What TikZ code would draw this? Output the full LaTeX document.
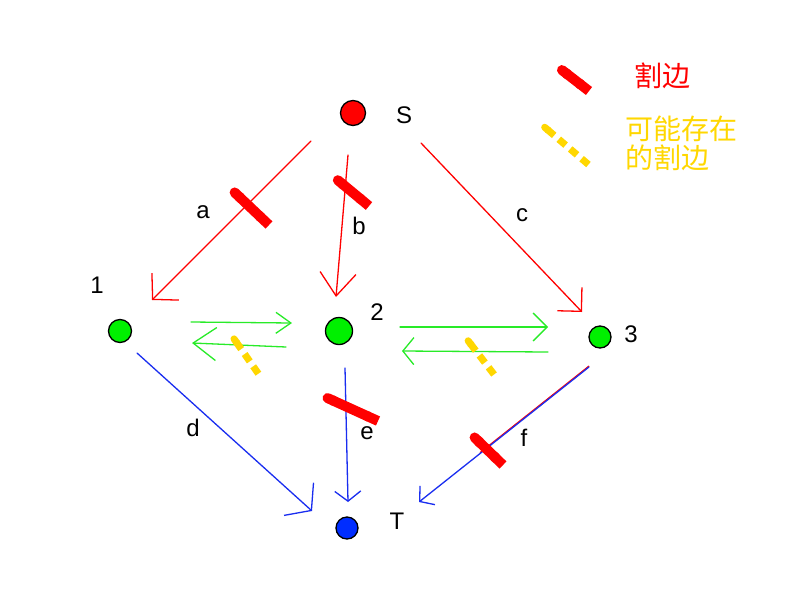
\documentclass[tikz,border=0pt]{standalone}
\usepackage{fontspec}
\setmainfont{Liberation Sans}
\newfontfamily\cjk{Noto Sans CJK SC}
\usetikzlibrary{arrows.meta}
\definecolor{ngreen}{RGB}{0,240,0}
\definecolor{egreen}{RGB}{40,235,40}
\definecolor{nblue}{RGB}{0,45,255}
\definecolor{eblue}{RGB}{25,45,240}
\definecolor{gold}{RGB}{255,215,0}
\begin{document}
\begin{tikzpicture}[x=1pt,y=-1pt,
  vertex/.style={circle, draw=black, line width=1.3pt, inner sep=0pt},
  lbl/.style={font=\fontsize{24}{28}\selectfont, inner sep=0pt, anchor=center},
  edge/.style={line width=1.3pt, line cap=round},
  cutmark/.style={draw=red, line width=10pt, line cap=butt, {Round Cap[]}-{Butt Cap[]}},
  maybecut/.style={draw=gold, line width=7pt, line cap=butt, dash pattern=on 9pt off 6pt},
]
\useasboundingbox (0,0) rectangle (800,600);
\fill[white] (0,0) rectangle (800,600);

% vertices
\node[vertex, fill=red, minimum size=25pt] (S) at (353,113) {};
\node[vertex, fill=ngreen, minimum size=23pt] (n1) at (120,331) {};
\node[vertex, fill=ngreen, minimum size=27pt] (n2) at (339,331) {};
\node[vertex, fill=ngreen, minimum size=22pt] (n3) at (600,337) {};
\node[vertex, fill=nblue, minimum size=22pt] (T) at (347,528) {};

% vertex labels
\node[lbl] (lS) at (404,115) {S};
\node[lbl] (l1) at (97,285) {1};
\node[lbl] (l2) at (377,312) {2};
\node[lbl] (l3) at (631,334) {3};
\node[lbl] (lT) at (397,521) {T};

% edge end points
\coordinate (a0) at (311,141); \coordinate (a1) at (152,300);
\coordinate (b0) at (348,155); \coordinate (b1) at (336,297);
\coordinate (c0) at (421,143); \coordinate (c1) at (582,312);
\coordinate (d0) at (137,353); \coordinate (d1) at (312,511);
\coordinate (e0) at (345,368); \coordinate (e1) at (348,502);
\coordinate (f0) at (589,367); \coordinate (f1) at (419,502);
\coordinate (g0) at (191,322); \coordinate (g1) at (292,323);
\coordinate (h0) at (286,347); \coordinate (h1) at (192,343);
\coordinate (i0) at (400,327); \coordinate (i1) at (548,327);
\coordinate (j0) at (548,352); \coordinate (j1) at (402,351);

% red edges
\draw[edge, red, -{Straight Barb[length=18pt,width=38pt]}] (a0) -- (a1);
\draw[edge, red, -{Straight Barb[length=23pt,width=36pt]}] (b0) -- (b1);
\draw[edge, red, -{Straight Barb[length=17pt,width=34pt]}] (c0) -- (c1);

% blue edges
\draw[edge, eblue, -{Straight Barb[length=17pt,width=44pt]}] (d0) -- (d1);
\draw[edge, eblue, -{Straight Barb[length=10pt,width=26pt]}] (e0) -- (e1);
\coordinate (fr0) at (589,366); \coordinate (fr1) at (480,452.6);
\draw[line width=1.2pt, red] (fr0) -- (fr1);
\draw[edge, eblue, -{Straight Barb[length=10pt,width=24pt]}] (f0) -- (f1);

% green edges
\draw[edge, egreen, -{Straight Barb[length=15pt,width=21pt]}] (g0) -- (g1);
\draw[edge, egreen, -{Straight Barb[length=23pt,width=33pt]}] (h0) -- (h1);
\draw[edge, egreen, -{Straight Barb[length=14pt,width=28pt]}] (i0) -- (i1);
\draw[edge, egreen, -{Straight Barb[length=11pt,width=27pt]}] (j0) -- (j1);

% edge labels
\node[lbl] (la) at (203,212) {a};
\node[lbl] (lb) at (359,226) {b};
\node[lbl] (lc) at (522,215) {c};
\node[lbl] (ld) at (193,428) {d};
\node[lbl] (le) at (367,433) {e};
\node[lbl] (lf) at (524,438) {f};

% cut marks
\coordinate (ca0) at (231,189); \coordinate (ca1) at (269,225);
\coordinate (cb0) at (334,177); \coordinate (cb1) at (369,206);
\coordinate (ce0) at (323,396); \coordinate (ce1) at (378,421);
\coordinate (cf0) at (471,434); \coordinate (cf1) at (503,465);
\draw[cutmark] (ca0) -- (ca1);
\draw[cutmark] (cb0) -- (cb1);
\draw[cutmark] (ce0) -- (ce1);
\draw[cutmark] (cf0) -- (cf1);

% possible cuts
\coordinate (y10) at (232,336); \coordinate (y11) at (260,376);
\coordinate (y20) at (466,338); \coordinate (y21) at (496,377);
\draw[maybecut, {Round Cap[]}-] (y10) -- (y11);
\draw[maybecut, {Round Cap[]}-] (y20) -- (y21);

% legend
\coordinate (lc0) at (558,67); \coordinate (lc1) at (589,91);
\draw[cutmark] (lc0) -- (lc1);
\coordinate (ly0) at (542,125); \coordinate (ly1) at (589,165);
\draw[maybecut, {Round Cap[]}-] (ly0) -- (ly1);

\node[font=\cjk\fontsize{28}{30}\selectfont, text=red, inner sep=0pt, anchor=west] (leg1) at (634,76) {割边};
\node[font=\cjk\fontsize{28}{29}\selectfont, text=gold, inner sep=0pt, anchor=north west, align=left] (leg2) at (625,116) {可能存在\\的割边};
\end{tikzpicture}
\end{document}
